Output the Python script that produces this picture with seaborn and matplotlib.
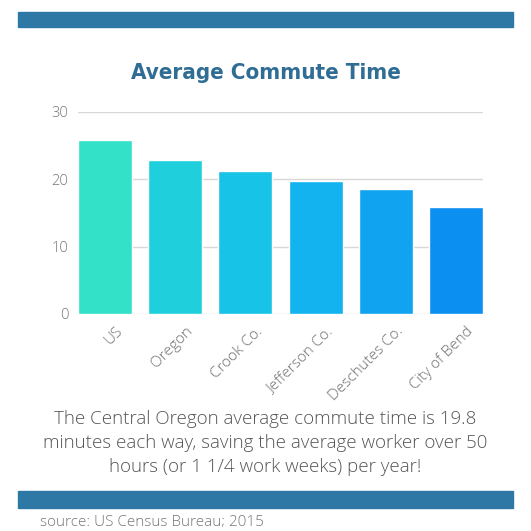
import matplotlib
matplotlib.use("Agg")
import matplotlib.pyplot as plt
import matplotlib.transforms as mtransforms
import seaborn as sns
import pandas as pd
from matplotlib.patches import Rectangle

# values
places = ["US", "Oregon", "Crook Co.", "Jefferson Co.", "Deschutes Co.", "City of Bend"]
minutes = [25.9, 22.9, 21.2, 19.7, 18.5, 15.9]
bar_colors = ["#33e0c8", "#1fd0dc", "#17c3e6", "#12b3ee", "#0fa3f0", "#0b8ff0"]
y_ticks = [0, 10, 20, 30]

title = "Average Commute Time"
caption = ("The Central Oregon average commute time is 19.8\n"
           "minutes each way, saving the average worker over 50\n"
           "hours (or 1 1/4 work weeks) per year!")
source = "source: US Census Bureau; 2015"

df = pd.DataFrame({"place": places, "minutes": minutes})

sns.set_style("white")
plt.rcParams["font.family"] = ["Open Sans", "DejaVu Sans"]

fig = plt.figure(figsize=(5.31, 5.31), dpi=100)
ax = fig.add_axes([0.147, 0.4087, 0.7627, 0.3804])

sns.barplot(data=df, x="place", y="minutes", hue="place", palette=bar_colors,
            legend=False, width=0.77, saturation=1, ax=ax)

ax.set_ylim(0, 30)
ax.set_xlim(-0.385, len(places) - 1 + 0.385)
ax.set_yticks(y_ticks)
ax.yaxis.grid(True, color="#d8d8d8", linewidth=1)
ax.set_axisbelow(True)
for s in ax.spines.values():
    s.set_visible(False)
ax.set_xlabel("")
ax.set_ylabel("")
ax.tick_params(axis="y", length=0, pad=7, labelsize=10.5, labelcolor="#777777")
ax.tick_params(axis="x", length=0, pad=0, labelsize=11, labelcolor="#707070")
for lab in ax.get_yticklabels():
    lab.set_fontweight("light")

# rotated labels sit a little to the right of each bar centre
shift = mtransforms.ScaledTranslation(10 / 100, -10 / 100, fig.dpi_scale_trans)
for lab in ax.get_xticklabels():
    lab.set_rotation(45)
    lab.set_ha("right")
    lab.set_va("top")
    lab.set_rotation_mode("anchor")
    lab.set_fontweight("light")
    lab.set_transform(lab.get_transform() + shift)

# header and footer bands
band = "#2e78a6"
fig.patches.append(Rectangle((18 / 531, 1 - 27 / 531), 495 / 531, 15 / 531,
                             transform=fig.transFigure, color=band))
fig.patches.append(Rectangle((18 / 531, 1 - 508 / 531), 495 / 531, 17 / 531,
                             transform=fig.transFigure, color=band))

fig.text(0.5, 1 - 73 / 531, title, ha="center", va="center", fontsize=16,
         fontweight="bold", fontstretch="condensed", color="#2f6d94",
         family=["DejaVu Sans"])
fig.text(0.5, 1 - 443 / 531, caption, ha="center", va="center", fontsize=13.5,
         fontweight="light", color="#555555", linespacing=1.42)
fig.text(40 / 531, 1 - 522 / 531, source, ha="left", va="center", fontsize=11,
         fontweight="light", color="#777777")

fig.savefig("out.png", dpi=100)
